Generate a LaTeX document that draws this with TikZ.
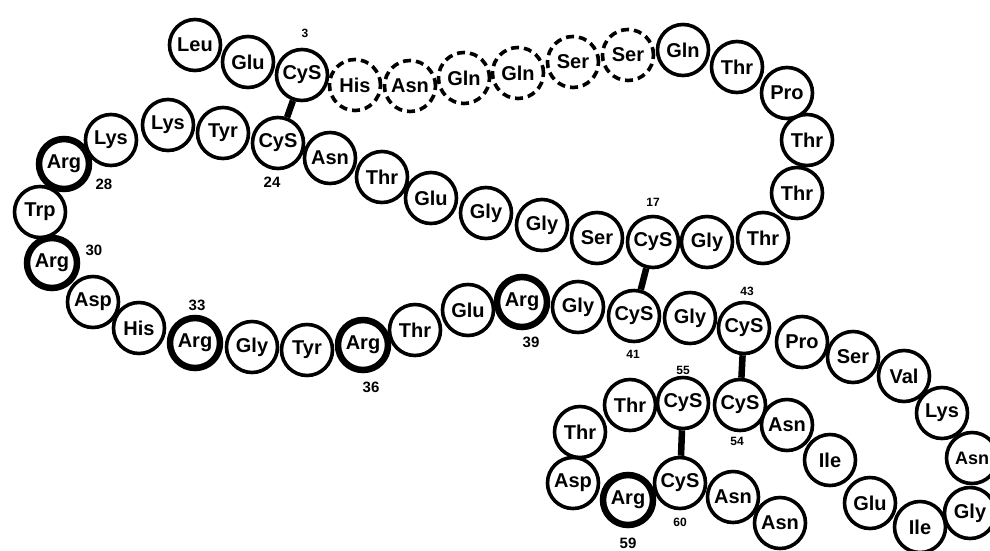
\documentclass[tikz,border=0pt]{standalone}
\usepackage{fontspec}
\setmainfont{Liberation Sans}
\begin{document}
\begin{tikzpicture}[x=1pt,y=-1pt,
  res/.style={circle,draw,line width=3.6pt,minimum size=51pt,inner sep=0pt,
    font=\fontsize{20}{20}\selectfont\bfseries},
  argres/.style={res,line width=6.5pt,minimum size=50pt},
  dres/.style={res,dash pattern=on 8pt off 5pt},
  numlbl/.style={inner sep=0pt,font=\fontsize{15}{15}\selectfont\bfseries},
  smlbl/.style={inner sep=0pt,font=\fontsize{12}{12}\selectfont\bfseries},
  ssbond/.style={line width=6.5pt}]
\useasboundingbox[fill=white] (0,0) rectangle (990,550);
\node[res] (r1) at (195,45) {Leu};
\node[res] (r2) at (248,62) {Glu};
\node[res] (r3) at (302,75) {CyS};
\node[dres] (r4) at (355,85) {His};
\node[dres] (r5) at (410,86) {Asn};
\node[dres] (r6) at (464,78) {Gln};
\node[dres] (r7) at (518,73) {Gln};
\node[dres] (r8) at (573,62) {Ser};
\node[dres] (r9) at (628,55) {Ser};
\node[res] (r10) at (683,50) {Gln};
\node[res] (r11) at (737,67) {Thr};
\node[res] (r12) at (787,93) {Pro};
\node[res] (r13) at (807,140) {Thr};
\node[res] (r14) at (797,193) {Thr};
\node[res] (r15) at (763,238) {Thr};
\node[res] (r16) at (707,242) {Gly};
\node[res] (r17) at (653,242) {CyS};
\node[res] (r18) at (597,238) {Ser};
\node[res] (r19) at (542,225) {Gly};
\node[res] (r20) at (486,213) {Gly};
\node[res] (r21) at (431,198) {Glu};
\node[res] (r22) at (382,177) {Thr};
\node[res] (r23) at (330,158) {Asn};
\node[res] (r24) at (278,143) {CyS};
\node[res] (r25) at (223,133) {Tyr};
\node[res] (r26) at (168,125) {Lys};
\node[res] (r27) at (111,140) {Lys};
\node[argres] (r28) at (64,164) {Arg};
\node[res] (r29) at (40,212) {Trp};
\node[argres] (r30) at (52,263) {Arg};
\node[res] (r31) at (93,302) {Asp};
\node[res] (r32) at (139,328) {His};
\node[argres] (r33) at (195,343) {Arg};
\node[res] (r34) at (252,347) {Gly};
\node[res] (r35) at (307,350) {Tyr};
\node[argres] (r36) at (363,345) {Arg};
\node[res] (r37) at (415,330) {Thr};
\node[res] (r38) at (468,310) {Glu};
\node[argres] (r39) at (522,302) {Arg};
\node[res] (r40) at (578,307) {Gly};
\node[res] (r41) at (634,316) {CyS};
\node[res] (r42) at (690,318) {Gly};
\node[res] (r43) at (744,328) {CyS};
\node[res] (r44) at (802,342) {Pro};
\node[res] (r45) at (853,357) {Ser};
\node[res] (r46) at (904,376) {Val};
\node[res] (r47) at (942,413) {Lys};
\node[res,font=\fontsize{18}{18}\selectfont\bfseries] (r48) at (972,458) {Asn};
\node[res] (r49) at (970,513) {Gly};
\node[res] (r50) at (920,527) {Ile};
\node[res] (r51) at (870,503) {Glu};
\node[res] (r52) at (830,460) {Ile};
\node[res] (r53) at (787,425) {Asn};
\node[res] (r54) at (740,405) {CyS};
\node[res] (r55) at (683,403) {CyS};
\node[res] (r56) at (630,405) {Thr};
\node[res] (r57) at (580,432) {Thr};
\node[res] (r58) at (573,483) {Asp};
\node[argres] (r59) at (628,500) {Arg};
\node[res] (r60) at (680,483) {CyS};
\node[res] (r61) at (733,497) {Asn};
\node[res] (r62) at (780,523) {Asn};
% numbers
\node[smlbl] (n3) at (305,33) {3};
\node[smlbl] (n17) at (653,202) {17};
\node[numlbl] (n24) at (272,182) {24};
\node[numlbl] (n28) at (104,184) {28};
\node[numlbl] (n30) at (94,250) {30};
\node[numlbl] (n33) at (197,305) {33};
\node[numlbl] (n36) at (371,387) {36};
\node[numlbl] (n39) at (531,342) {39};
\node[smlbl] (n41) at (633,354) {41};
\node[smlbl] (n43) at (747,291) {43};
\node[smlbl] (n54) at (737,441) {54};
\node[smlbl] (n55) at (683,370) {55};
\node[numlbl] (n59) at (628,543) {59};
\node[smlbl] (n60) at (680,522) {60};
% disulfide bonds
\draw[ssbond] (r3) -- (r24);
\draw[ssbond] (r17) -- (r41);
\draw[ssbond] (r43) -- (r54);
\draw[ssbond] (r55) -- (r60);
\end{tikzpicture}
\end{document}
